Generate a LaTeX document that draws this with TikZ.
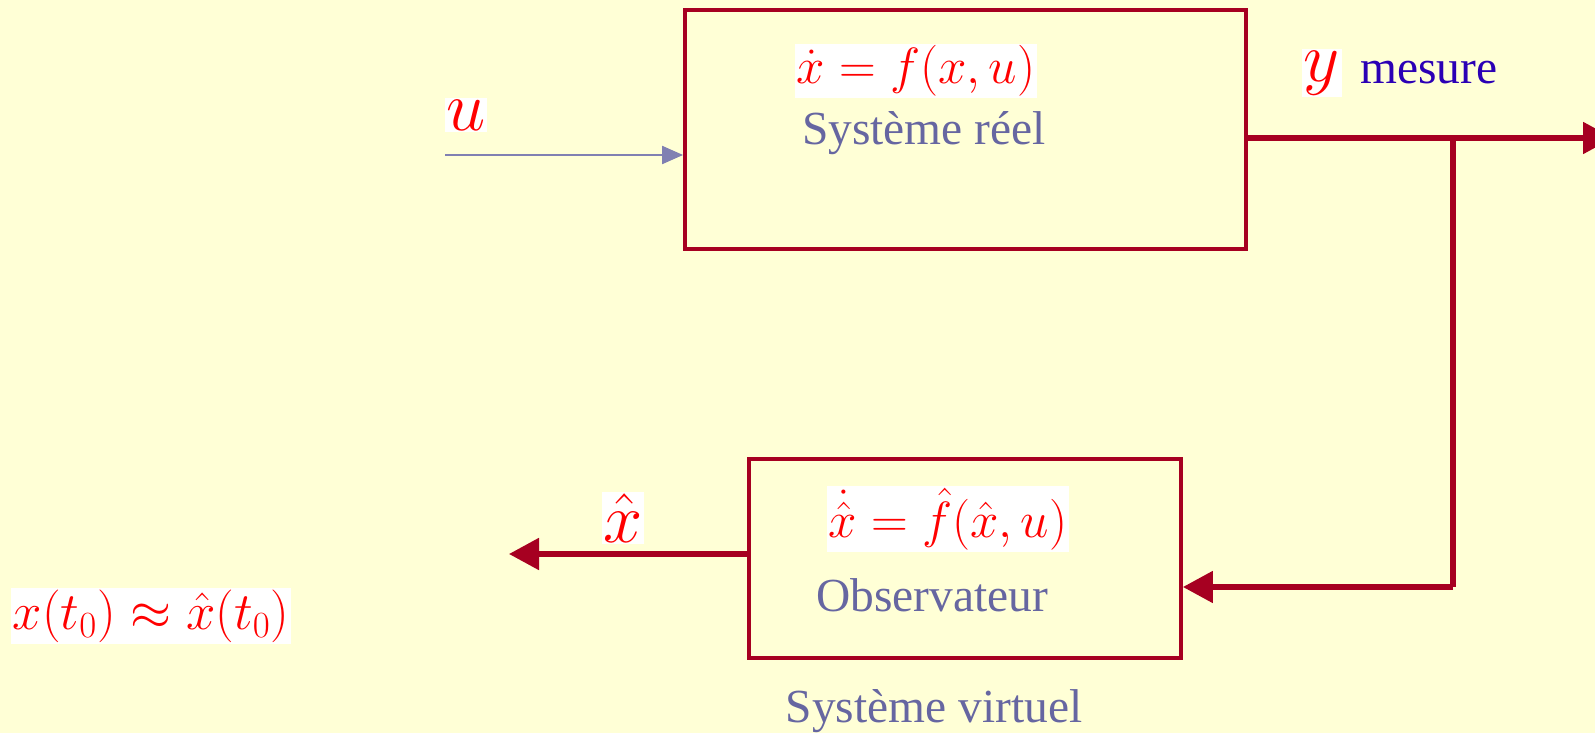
\documentclass[tikz,border=0pt]{standalone}
\usepackage{fix-cm}
\usepackage{amsmath}
\usepackage{amssymb}
\usepackage{fontspec}
\setmainfont{Liberation Serif}
\usepackage{xcolor}
\usetikzlibrary{arrows.meta}

\definecolor{fond}{rgb}{1,1,0.84}
\definecolor{bordeaux}{rgb}{0.65,0,0.13}
\definecolor{ardoise}{rgb}{0.40,0.40,0.63}
\definecolor{fleche}{rgb}{0.50,0.50,0.70}
\definecolor{indigo}{rgb}{0.17,0,0.71}

\begin{document}
\begin{tikzpicture}[
    bloc/.style={draw=bordeaux, line width=2.2pt},
    lien/.style={draw=bordeaux, line width=3pt, -{Triangle[length=0.6cm,width=0.62cm]}},
    eq/.style={fill=white, text=red, inner sep=1pt, font=\fontsize{29}{34}\selectfont},
    lettre/.style={eq, font=\fontsize{40}{46}\selectfont},
    txt/.style={text=ardoise, inner sep=0pt, font=\fontsize{27}{32}\selectfont}
]
% fond
\fill[fond] (0,0) rectangle (31.9,14.66);
\useasboundingbox (0,0) rectangle (31.9,14.66);

% Système réel
\node[bloc, minimum width=11.22cm, minimum height=4.78cm] (reel) at (19.31,12.07) {};
\node[eq] (freel) at (18.32,13.24) {$\dot{x}=f(x,u)$};
\node[txt] (treel) at (18.48,12.0) {Système réel};

% entrée u
\coordinate (uin) at (8.9,11.56);
\draw[fleche, line width=1.2pt, -{Triangle[length=0.42cm,width=0.36cm]}] (uin) -- (uin -| reel.west);
\node[lettre] (u) at (9.32,12.36) {$u$};

% sortie y
\coordinate (ydep) at (24.92,11.9);
\coordinate (yfin) at (32.26,11.9);
\coordinate (coin) at (29.06,11.9);
\coordinate (bas) at (29.06,2.92);
\draw[lien] (ydep) -- (yfin);
\node[lettre] (y) at (26.44,13.2) {$y$};
\node[txt, text=indigo] (mes) at (28.58,13.2) {mesure};

% Observateur
\node[bloc, minimum width=8.64cm, minimum height=3.98cm] (obs) at (19.30,3.49) {};
\node[eq] (fobs) at (18.96,4.28) {$\dot{\hat{x}}=\hat{f}(\hat{x},u)$};
\node[txt] (tobs) at (18.64,2.76) {Observateur};
\node[txt] (virt) at (18.68,0.44) {Système virtuel};

% retour
\draw[draw=bordeaux, line width=3pt] (coin) -- (bas);
\draw[lien] (bas) -- (bas -| obs.east);

% estimation
\coordinate (xh) at (10.18,3.58);
\draw[lien] (xh -| obs.west) -- (xh);
\node[lettre] (xhat) at (12.46,4.3) {$\hat{x}$};
\node[eq, font=\fontsize{30}{35}\selectfont] (init) at (3.02,2.34) {$x(t_0)\approx\hat{x}(t_0)$};
\end{tikzpicture}
\end{document}
